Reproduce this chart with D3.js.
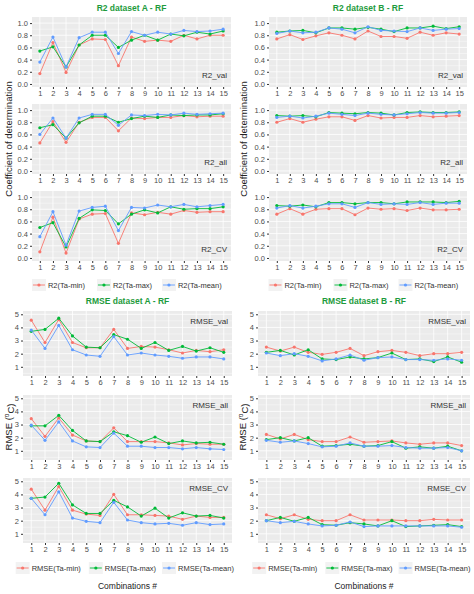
<!DOCTYPE html>
<html>
<head>
<meta charset="utf-8">
<script src="https://cdn.jsdelivr.net/npm/d3@7"></script>
<style>
  body { margin: 0; background: #fff; }
  text { font-family: Arial, "Liberation Sans", sans-serif; }
</style>
</head>
<body>
<svg id="chart" width="474" height="594"></svg>
<script>
const combos = d3.range(1, 16);
const seriesColors = ["#F8766D", "#00BA38", "#619CFF"];

// R2 dataset A
const r2AValMin  = [.17,.68,.19,.64,.74,.73,.30,.77,.70,.72,.70,.80,.74,.80,.80];
const r2AValMax  = [.54,.61,.28,.64,.80,.80,.60,.72,.80,.72,.82,.79,.85,.82,.87];
const r2AValMean = [.36,.77,.28,.76,.85,.85,.50,.86,.80,.85,.82,.88,.86,.87,.90];
const r2AAllMin  = [.46,.81,.47,.80,.88,.88,.66,.87,.86,.88,.88,.91,.89,.90,.90];
const r2AAllMax  = [.71,.76,.54,.79,.90,.90,.80,.86,.90,.88,.92,.91,.92,.92,.94];
const r2AAllMean = [.60,.87,.54,.87,.93,.93,.75,.92,.91,.93,.92,.95,.93,.94,.95];
const r2ACvMin   = [.10,.67,.08,.64,.72,.73,.24,.74,.71,.75,.72,.78,.75,.76,.76];
const r2ACvMax   = [.50,.58,.18,.65,.79,.78,.56,.72,.79,.74,.84,.80,.81,.81,.84];
const r2ACvMean  = [.35,.76,.21,.77,.83,.85,.45,.83,.82,.87,.84,.88,.84,.86,.88];
// R2 dataset B
const r2BValMin  = [.74,.81,.73,.79,.84,.80,.74,.87,.78,.78,.75,.85,.80,.84,.82];
const r2BValMax  = [.85,.87,.88,.84,.92,.92,.90,.93,.90,.86,.92,.92,.95,.91,.94];
const r2BValMean = [.83,.87,.84,.85,.92,.90,.84,.94,.88,.87,.86,.92,.88,.90,.91];
const r2BAllMin  = [.80,.86,.80,.85,.89,.89,.83,.91,.87,.88,.88,.91,.89,.90,.91];
const r2BAllMax  = [.91,.90,.91,.89,.96,.95,.94,.96,.95,.92,.96,.97,.96,.96,.97];
const r2BAllMean = [.88,.90,.87,.90,.95,.93,.91,.95,.93,.92,.94,.96,.95,.95,.96];
const r2BCvMin   = [.72,.81,.72,.80,.81,.81,.71,.82,.80,.81,.78,.82,.79,.79,.80];
const r2BCvMax   = [.86,.85,.87,.84,.91,.91,.89,.91,.91,.89,.92,.92,.92,.91,.93];
const r2BCvMean  = [.82,.86,.82,.85,.89,.89,.83,.91,.88,.89,.88,.91,.88,.90,.90];
// RMSE dataset A
const rmAValMin  = [4.55,2.85,4.6,2.85,2.45,2.45,3.85,2.4,2.55,2.5,2.3,2.05,2.25,2.15,2.3];
const rmAValMax  = [3.7,3.85,4.7,3.35,2.5,2.45,3.45,3.1,2.4,2.85,2.25,2.55,2.2,2.45,2.1];
const rmAValMean = [3.8,2.4,4.15,2.3,1.9,1.8,3.3,1.9,2.05,1.9,1.8,1.65,1.75,1.75,1.6];
const rmAAllMin  = [3.45,2.1,3.5,2.2,1.75,1.7,2.75,1.7,1.7,1.7,1.6,1.45,1.55,1.5,1.5];
const rmAAllMax  = [2.9,2.9,3.7,2.55,1.75,1.7,2.45,2.15,1.65,2.05,1.55,1.75,1.6,1.65,1.5];
const rmAAllMean = [2.95,1.8,3.2,1.75,1.3,1.25,2.35,1.35,1.35,1.25,1.25,1.15,1.25,1.15,1.1];
const rmACvMin   = [4.4,2.8,4.6,2.8,2.5,2.4,4.0,2.45,2.45,2.4,2.35,2.1,2.35,2.25,2.25];
const rmACvMax   = [3.7,3.8,4.85,3.2,2.55,2.55,3.55,3.05,2.35,2.95,2.2,2.6,2.35,2.4,2.2];
const rmACvMean  = [3.7,2.45,4.2,2.2,1.95,1.85,3.4,2.05,1.85,1.75,1.8,1.65,1.85,1.7,1.75];
// RMSE dataset B
const rmBValMin  = [2.5,2.2,2.5,2.1,1.95,2.1,2.4,1.85,2.15,2.25,2.1,1.85,2.0,2.0,2.1];
const rmBValMax  = [2.1,2.25,1.9,2.3,1.6,1.55,1.75,1.6,1.7,2.05,1.55,1.6,1.4,1.75,1.35];
const rmBValMean = [2.05,1.85,2.0,1.8,1.45,1.6,1.9,1.5,1.7,1.75,1.55,1.55,1.5,1.6,1.5];
const rmBAllMin  = [2.25,1.9,2.25,1.85,1.7,1.7,2.05,1.65,1.7,1.75,1.6,1.5,1.6,1.6,1.4];
const rmBAllMax  = [1.85,2.0,1.75,2.0,1.35,1.4,1.5,1.35,1.4,1.7,1.2,1.3,1.2,1.35,1.0];
const rmBAllMean = [1.8,1.65,1.75,1.55,1.3,1.35,1.6,1.35,1.35,1.4,1.25,1.2,1.2,1.25,1.0];
const rmBCvMin   = [2.45,2.15,2.45,2.1,2.0,2.0,2.45,2.05,2.05,2.05,2.0,2.0,2.1,2.05,2.05];
const rmBCvMax   = [2.0,2.25,1.95,2.25,1.7,1.65,1.85,1.75,1.6,2.0,1.55,1.6,1.65,1.7,1.55];
const rmBCvMean  = [2.0,1.85,1.95,1.75,1.6,1.65,1.9,1.55,1.6,1.6,1.6,1.6,1.6,1.6,1.5];

const r2Legend   = ["R2(Ta-min)", "R2(Ta-max)", "R2(Ta-mean)"];
const rmseLegend = ["RMSE(Ta-min)", "RMSE(Ta-max)", "RMSE(Ta-mean)"];
const r2Ticks    = [0, 0.2, 0.4, 0.6, 0.8, 1.0];
const rmseTicks  = [1, 2, 3, 4, 5];

const groups = [
    {title: "R2 dataset A - RF", x0: 32, x1: 231, tops: [17, 104, 191], h: 70, dom: [-0.05, 1.1],
     ticks: r2Ticks, fmt: d3.format(".1f"), labelPos: "bottom", legend: r2Legend, legendY: 285,
     ylabel: "Coefficient of determination", ylabelX: 9, titleY: 11,
     panels: [["R2_val", [r2AValMin, r2AValMax, r2AValMean]], ["R2_all", [r2AAllMin, r2AAllMax, r2AAllMean]], ["R2_CV", [r2ACvMin, r2ACvMax, r2ACvMean]]]},
    {title: "R2 dataset B - RF", x0: 269, x1: 467, tops: [17, 104, 191], h: 70, dom: [-0.05, 1.1],
     ticks: r2Ticks, fmt: d3.format(".1f"), labelPos: "bottom", legend: r2Legend, legendY: 285,
     ylabel: "Coefficient of determination", ylabelX: 244, titleY: 11,
     panels: [["R2_val", [r2BValMin, r2BValMax, r2BValMean]], ["R2_all", [r2BAllMin, r2BAllMax, r2BAllMean]], ["R2_CV", [r2BCvMin, r2BCvMax, r2BCvMean]]]},
    {title: "RMSE dataset A - RF", x0: 23, x1: 232, tops: [311, 395, 478], h: 65, dom: [0.3, 5.25],
     ticks: rmseTicks, fmt: d3.format("d"), labelPos: "top", legend: rmseLegend, legendY: 568,
     ylabel: "RMSE", ylabelX: 9, titleY: 304, xlabel: "Combinations #",
     panels: [["RMSE_val", [rmAValMin, rmAValMax, rmAValMean]], ["RMSE_all", [rmAAllMin, rmAAllMax, rmAAllMean]], ["RMSE_CV", [rmACvMin, rmACvMax, rmACvMean]]]},
    {title: "RMSE dataset B - RF", x0: 258, x1: 470, tops: [311, 395, 478], h: 65, dom: [0.3, 5.25],
     ticks: rmseTicks, fmt: d3.format("d"), labelPos: "top", legend: rmseLegend, legendY: 568,
     ylabel: "RMSE", ylabelX: 243, titleY: 304, xlabel: "Combinations #",
     panels: [["RMSE_val", [rmBValMin, rmBValMax, rmBValMean]], ["RMSE_all", [rmBAllMin, rmBAllMax, rmBAllMean]], ["RMSE_CV", [rmBCvMin, rmBCvMax, rmBCvMean]]]}
];

const svg = d3.select("#chart");

groups.forEach((g) => {
    const x = d3.scaleLinear().domain([0.4, 15.6]).range([g.x0, g.x1]);
    const cx = (g.x0 + g.x1) / 2;

    svg.append("text").attr("x", cx).attr("y", g.titleY).attr("text-anchor", "middle")
        .attr("font-size", 8.5).attr("font-weight", "bold").attr("fill", "#1E9B3C").text(g.title);

    g.panels.forEach(([name, series], pi) => {
        const top = g.tops[pi];
        const y = d3.scaleLinear().domain(g.dom).range([top + g.h, top]);
        const p = svg.append("g");

        p.append("rect").attr("x", g.x0).attr("y", top).attr("width", g.x1 - g.x0).attr("height", g.h).attr("fill", "#EBEBEB");

        // minor grid
        const minorY = g.ticks.slice(0, -1).map((t, i) => (t + g.ticks[i + 1]) / 2);
        if (g.ticks[0] === 1) minorY.unshift(0.5);
        p.selectAll(".my").data(minorY).join("line")
            .attr("x1", g.x0).attr("x2", g.x1).attr("y1", (d) => y(d)).attr("y2", (d) => y(d))
            .attr("stroke", "#fff").attr("stroke-width", 0.4);
        p.selectAll(".gy").data(g.ticks).join("line")
            .attr("x1", g.x0).attr("x2", g.x1).attr("y1", (d) => y(d)).attr("y2", (d) => y(d))
            .attr("stroke", "#fff").attr("stroke-width", 0.8);
        p.selectAll(".gx").data(combos).join("line")
            .attr("y1", top).attr("y2", top + g.h).attr("x1", (d) => x(d)).attr("x2", (d) => x(d))
            .attr("stroke", "#fff").attr("stroke-width", 0.8);

        const yAxis = p.append("g").attr("transform", `translate(${g.x0},0)`)
            .call(d3.axisLeft(y).tickValues(g.ticks).tickFormat(g.fmt).tickSize(2).tickPadding(2));
        const xAxis = p.append("g").attr("transform", `translate(0,${top + g.h})`)
            .call(d3.axisBottom(x).tickValues(combos).tickSize(2).tickPadding(2));
        [yAxis, xAxis].forEach((a) => {
            a.select(".domain").remove();
            a.selectAll("line").attr("stroke", "#333");
            a.selectAll("text").attr("font-size", 7.5).attr("fill", "#4D4D4D");
        });

        series.forEach((vals, si) => {
            const line = d3.line().x((d, i) => x(combos[i])).y((d) => y(d));
            p.append("path").datum(vals).attr("d", line).attr("fill", "none")
                .attr("stroke", seriesColors[si]).attr("stroke-width", 0.9);
            p.selectAll(null).data(vals).join("circle")
                .attr("cx", (d, i) => x(combos[i])).attr("cy", (d) => y(d)).attr("r", 1.6)
                .attr("fill", seriesColors[si]);
        });

        p.append("text").attr("x", g.x1 - 4).attr("text-anchor", "end")
            .attr("y", g.labelPos === "bottom" ? top + g.h - 9 : top + 13)
            .attr("font-size", 8).attr("fill", "#333").text(name);
    });

    // y label
    const yMid = (g.tops[0] + g.tops[2] + g.h) / 2;
    const yl = svg.append("text").attr("transform", `translate(${g.ylabelX},${yMid}) rotate(-90)`)
        .attr("text-anchor", "middle").attr("dy", "0.35em").attr("font-size", 9.5).attr("fill", "#222");
    if (g.ylabel === "RMSE") {
        yl.append("tspan").text("RMSE (");
        yl.append("tspan").attr("font-size", 6.5).attr("dy", "-0.5em").text("o");
        yl.append("tspan").attr("dy", "0.5em").text("C)");
    } else {
        yl.text(g.ylabel);
    }

    if (g.xlabel) {
        svg.append("text").attr("x", cx).attr("y", 589).attr("text-anchor", "middle")
            .attr("font-size", 8.5).attr("fill", "#222").text(g.xlabel);
    }

    // legend
    const widths = g.legend.map((l) => 16 + l.length * 4.1 + 8);
    const total = d3.sum(widths);
    let lx = cx - total / 2;
    g.legend.forEach((l, i) => {
        const item = svg.append("g").attr("transform", `translate(${lx},${g.legendY})`);
        item.append("rect").attr("x", 0).attr("y", -6).attr("width", 14).attr("height", 12).attr("fill", "#F2F2F2");
        item.append("line").attr("x1", 1).attr("x2", 13).attr("stroke", seriesColors[i]).attr("stroke-width", 0.9);
        item.append("circle").attr("cx", 7).attr("r", 1.6).attr("fill", seriesColors[i]);
        item.append("text").attr("x", 16).attr("dy", "0.35em").attr("font-size", 7.5).attr("fill", "#333").text(l);
        lx += widths[i];
    });
});
</script>
</body>
</html>
